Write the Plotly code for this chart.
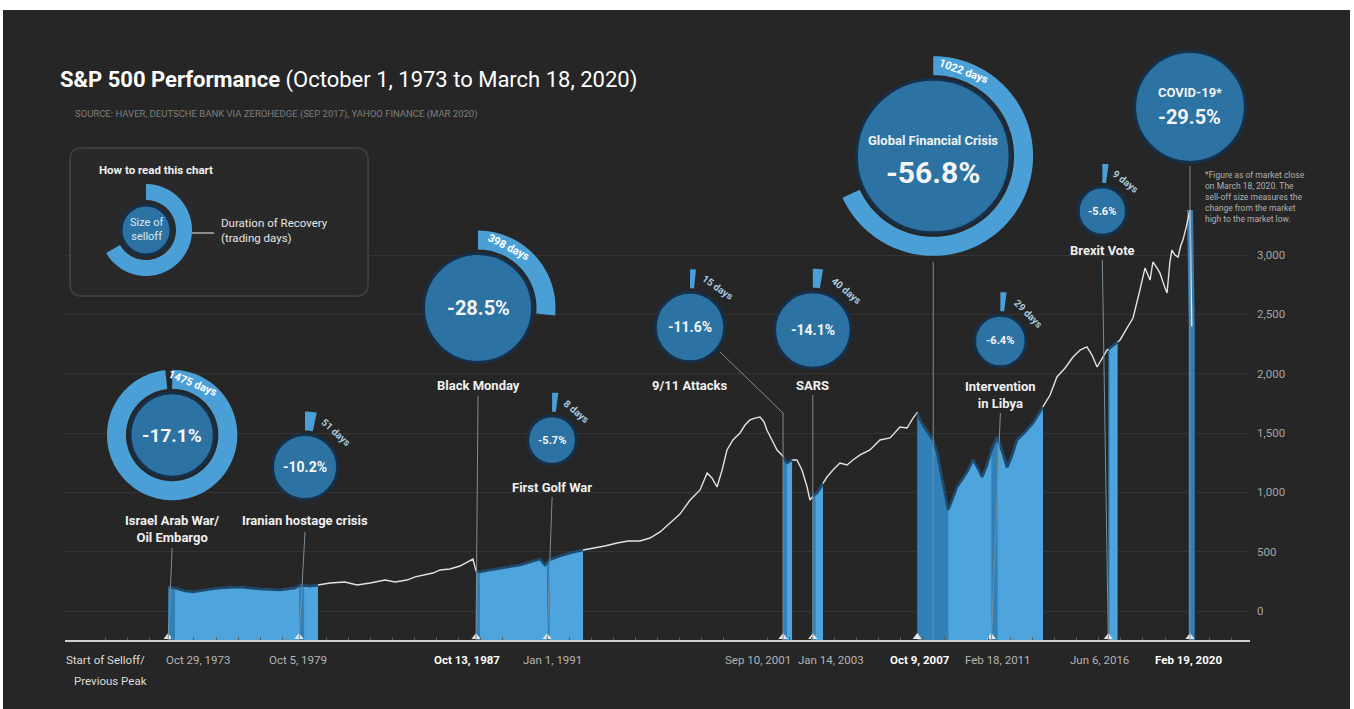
import numpy as np
import plotly.graph_objects as go

W, H = 1354, 709
FONT = "Roboto, Liberation Sans, sans-serif"

# ---------------- data ----------------
sp_years = [1973.82, 1974.14, 1974.59, 1974.96, 1975.50, 1976.18, 1977.09, 1977.99, 1978.90, 1979.58,
            1979.80, 1980.26, 1980.62, 1981.16, 1981.84, 1982.39, 1982.98, 1983.66, 1984.11, 1984.65,
            1985.02, 1985.47, 1985.83, 1986.15, 1986.60, 1987.05, 1987.42, 1987.64, 1987.78, 1987.96,
            1988.41, 1988.87, 1989.18, 1989.77, 1990.23, 1990.68, 1990.90, 1991.09, 1991.58, 1992.04,
            1992.63, 1993.17, 1993.62, 1994.17, 1994.67, 1995.21, 1995.66, 1996.12, 1996.71, 1997.02,
            1997.48, 1997.93, 1998.25, 1998.47, 1998.70, 1998.93, 1999.15, 1999.42, 1999.74, 1999.97,
            2000.19, 2000.42, 2000.65, 2000.83, 2000.96, 2001.19, 2001.42, 2001.64, 2001.87, 2002.10,
            2002.32, 2002.55, 2002.78, 2002.91, 2003.09, 2003.23, 2003.46, 2003.68, 2003.95, 2004.27,
            2004.59, 2004.86, 2005.18, 2005.63, 2006.08, 2006.54, 2006.99, 2007.31, 2007.58, 2007.76,
            2007.90, 2008.12, 2008.35, 2008.49, 2008.67, 2008.80, 2008.98, 2009.17, 2009.35, 2009.57,
            2009.85, 2010.07, 2010.30, 2010.52, 2010.71, 2010.93, 2011.16, 2011.39, 2011.61, 2011.84,
            2012.07, 2012.29, 2012.65, 2013.02, 2013.24, 2013.47, 2013.79, 2014.10, 2014.47, 2014.83,
            2015.15, 2015.46, 2015.69, 2015.92, 2016.14, 2016.37, 2016.64, 2016.96, 2017.28, 2017.55,
            2017.86, 2018.09, 2018.32, 2018.45, 2018.64, 2018.77, 2018.95, 2019.09, 2019.22, 2019.31,
            2019.45, 2019.59, 2019.72, 2019.81, 2019.95, 2020.04, 2020.13, 2020.16, 2020.19, 2020.21]
sp_values = [202, 194, 169, 160, 177, 194, 202, 185, 177, 194,
             219, 211, 219, 236, 244, 219, 236, 261, 244, 261,
             287, 303, 320, 346, 354, 379, 413, 438, 337, 329,
             346, 362, 371, 388, 413, 438, 388, 430, 463, 489,
             514, 531, 548, 573, 590, 590, 615, 666, 767, 817,
             935, 1020, 1163, 1121, 1045, 1188, 1357, 1441, 1500, 1567,
             1610, 1626, 1635, 1593, 1525, 1441, 1357, 1315, 1247, 1273,
             1273, 1188, 1045, 935, 978, 994, 1062, 1129, 1188, 1247,
             1230, 1273, 1315, 1357, 1441, 1458, 1551, 1542, 1626, 1669,
             1610, 1542, 1483, 1441, 1340, 1213, 1020, 851, 935, 1045,
             1121, 1188, 1273, 1205, 1129, 1230, 1374, 1466, 1357, 1213,
             1315, 1441, 1508, 1584, 1652, 1719, 1820, 1972, 2048, 2140,
             2199, 2225, 2157, 2056, 2132, 2199, 2233, 2284, 2385, 2469,
             2705, 2890, 2789, 2941, 2890, 2848, 2747, 2680, 2941, 3042,
             3000, 2983, 3084, 3126, 3228, 3312, 3379, 3000, 2700, 2398]

event_names = ["Israel Arab War/<br>Oil Embargo", "Iranian hostage crisis", "Black Monday",
               "First Golf War", "9/11 Attacks", "SARS", "Global Financial Crisis",
               "Intervention<br>in Libya", "Brexit Vote", "COVID-19*"]
event_dates = ["Oct 29, 1973", "Oct 5, 1979", "Oct 13, 1987", "Jan 1, 1991", "Sep 10, 2001",
               "Jan 14, 2003", "Oct 9, 2007", "Feb 18, 2011", "Jun 6, 2016", "Feb 19, 2020"]
peak_years = [1973.83, 1979.76, 1987.78, 1991.00, 2001.69, 2003.04, 2007.77, 2011.13, 2016.43, 2020.13]
trough_years = [1974.14, 1980.00, 1987.96, 1991.10, 2001.87, 2003.15, 2009.17, 2011.42, 2016.47, 2020.21]
end_years = [1980.62, 1980.62, 1991.00, 1992.63, 2002.10, 2003.50, 2013.47, 2012.07, 2016.85, None]
selloff_pct = [17.1, 10.2, 28.5, 5.7, 11.6, 14.1, 56.8, 6.4, 5.6, 29.5]
recovery_days = [1475, 51, 398, 8, 15, 40, 1022, 29, 9, None]
y_ticks = [0, 500, 1000, 1500, 2000, 2500, 3000]

# ---------------- styling / placement ----------------
BG = "#262626"
BUBBLE = "#2c72a3"
BUBBLE_EDGE = "#17304a"
RING = "#4b9fd7"
DARK_FILL = "#3180b8"
LIGHT_FILL = "#4ea4dc"
NAVY = "#1d4a6c"
LEADER = "#7d8e99"

X_MIN, X_MAX = 1969.156, 2022.849
Y_MIN, Y_MAX = -244.4, 5148.9
AXIS_PY = 640

bubble_dx = [4, 6, 2, 5, -93, 0, 16, 9, -6, 0]
bubble_cy = [435, 467, 308, 440, 327, 330, 156, 341, 211, 107]
pct_size = [19, 14, 20, 11, 14, 14, 30, 11, 11, 20]
name_py = [529, 520, 385, 487, 385, 385, None, 395, 250, None]
ring_label_angle = [22, 42, 27, 40, 35, 40, 20, 45, 38, None]
date_dx = [30, -1, -9, 5, -25, 18, 3, 7, -9, -1]
bold_dates = {2, 6, 9}
leader_pts = [
    [(4, 548), (0, 640)],
    [(6, 532), (0, 640)],
    [(2, 396), (0, 640)],
    [(5, 497), (0, 640)],
    [(-63, 352), (0, 413), (0, 640)],
    [(0, 395), (0, 640)],
    [(16, 262), (16, 640)],
    [(9, 413), (0, 640)],
    [(-6, 260), (0, 640)],
    [(0, 166), (0, 640)],
]


def paper_y(py):
    return 1 - py / H


def ann(**kw):
    base = dict(showarrow=False, xanchor="center", yanchor="middle")
    base.update(kw)
    return base


def ring_path(r0, r1, sweep, dx=0.0):
    n = max(4, int(sweep / 3) + 2)
    th = np.radians(np.linspace(0, sweep, n))
    pts = [(dx + r1 * np.sin(t), r1 * np.cos(t)) for t in th]
    pts += [(dx + r0 * np.sin(t), r0 * np.cos(t)) for t in th[::-1]]
    return "M " + " L ".join(f"{x:.2f},{y:.2f}" for x, y in pts) + " Z"


yrs = np.array(sp_years)
vals = np.array(sp_values, dtype=float)


def segment(a, b):
    inside = (yrs > a) & (yrs < b)
    xs = np.concatenate([[a], yrs[inside], [b]])
    return xs, np.interp(xs, yrs, vals)


fig = go.Figure()

# shaded sell-off / recovery areas under the index line
for i in range(len(peak_years)):
    a, t, e = peak_years[i], trough_years[i], end_years[i]
    covid = e is None
    xs, ys = segment(a, t)
    fig.add_trace(go.Scatter(
        x=list(xs) + [t, a], y=list(ys) + [Y_MIN, Y_MIN], mode="lines", fill="toself",
        fillcolor="#2f7fb6" if covid else DARK_FILL,
        line=dict(width=6 if covid else 0, color="#2f7fb6"), hoverinfo="skip"))
    if e is not None:
        xs, ys = segment(t, e)
        fig.add_trace(go.Scatter(
            x=list(xs) + [e, t], y=list(ys) + [Y_MIN, Y_MIN], mode="lines", fill="toself",
            fillcolor=LIGHT_FILL, line=dict(width=0), hoverinfo="skip"))

# index line
fig.add_trace(go.Scatter(x=sp_years, y=sp_values, mode="lines",
                         line=dict(color="#e2e2e2", width=1.4), hoverinfo="skip"))

# darker outline of the index inside shaded areas
for i in range(len(peak_years)):
    if end_years[i] is None:
        continue
    xs, ys = segment(peak_years[i], end_years[i])
    fig.add_trace(go.Scatter(x=xs, y=ys, mode="lines",
                             line=dict(color=NAVY, width=2.6), hoverinfo="skip"))

# event markers on the time axis
fig.add_trace(go.Scatter(x=peak_years, y=[Y_MIN + 25] * len(peak_years), mode="markers",
                         marker=dict(symbol="triangle-up", size=8, color="#e8e8e8"),
                         cliponaxis=False, hoverinfo="skip"))

shapes = []
# background panel
shapes.append(dict(type="rect", xref="paper", yref="paper", x0=3 / W, x1=1350 / W,
                   y0=0, y1=paper_y(10), fillcolor=BG, line=dict(width=0), layer="below"))

# legend box
box = "M 82,-148 L 356,-148 Q 368,-148 368,-160 L 368,-284 Q 368,-296 356,-296 L 82,-296 Q 70,-296 70,-284 L 70,-160 Q 70,-148 82,-148 Z"
shapes.append(dict(type="path", xref="paper", yref="paper", xsizemode="pixel", ysizemode="pixel",
                   xanchor=0, yanchor=1, path=box, fillcolor="#292929",
                   line=dict(color="#3d3d3d", width=2), layer="above"))
shapes.append(dict(type="path", xref="paper", yref="paper", xsizemode="pixel", ysizemode="pixel",
                   xanchor=146 / W, yanchor=paper_y(230), path=ring_path(30, 46, 240),
                   fillcolor=RING, line=dict(width=0), layer="above"))
shapes.append(dict(type="circle", xref="paper", yref="paper", xsizemode="pixel", ysizemode="pixel",
                   xanchor=146 / W, yanchor=paper_y(230), x0=-25, x1=25, y0=-25, y1=25,
                   fillcolor=BUBBLE, line=dict(color=BUBBLE_EDGE, width=3), layer="above"))
shapes.append(dict(type="line", xref="paper", yref="paper", x0=192 / W, x1=214 / W,
                   y0=paper_y(233), y1=paper_y(233), line=dict(color="#cfcfcf", width=1.2),
                   layer="above"))

# leader lines
for i in range(len(peak_years)):
    pts = leader_pts[i]
    path = "M " + " L ".join(f"{x},{AXIS_PY - py}" for x, py in pts)
    shapes.append(dict(type="path", xref="x", yref="paper", xsizemode="pixel", ysizemode="pixel",
                       xanchor=peak_years[i], yanchor=paper_y(AXIS_PY), path=path,
                       line=dict(color=LEADER, width=1), layer="above"))

annotations = []

# bubbles: circle area ~ size of sell-off, ring sweep ~ recovery duration
for i in range(len(peak_years)):
    r = 10.2 * np.sqrt(selloff_pct[i])
    dx, cy = bubble_dx[i], bubble_cy[i]
    days = recovery_days[i]
    if days is not None:
        r0, r1 = r + 4, r + 23
        sweep = max(360 * days / 1500, np.degrees(5 / ((r0 + r1) / 2)))
        shapes.append(dict(type="path", xref="x", yref="paper", xsizemode="pixel", ysizemode="pixel",
                           xanchor=peak_years[i], yanchor=paper_y(cy),
                           path=ring_path(r0, r1, sweep, dx), fillcolor=RING,
                           line=dict(width=0), layer="above"))
        ang = ring_label_angle[i]
        rm = (r0 + r1) / 2
        inside = sweep > ang + 20
        annotations.append(ann(
            x=peak_years[i], xref="x", y=paper_y(cy), yref="paper",
            xshift=dx + rm * np.sin(np.radians(ang)), yshift=rm * np.cos(np.radians(ang)),
            text=f"<b>{days} days</b>", textangle=ang,
            font=dict(family=FONT, size=11 if inside else 10,
                      color="#ffffff" if inside else "#a9c8de")))
    shapes.append(dict(type="circle", xref="x", yref="paper", xsizemode="pixel", ysizemode="pixel",
                       xanchor=peak_years[i], yanchor=paper_y(cy),
                       x0=dx - r, x1=dx + r, y0=-r, y1=r, fillcolor=BUBBLE,
                       line=dict(color=BUBBLE_EDGE, width=3), layer="above"))
    pct = f"<b>-{selloff_pct[i]}%</b>"
    if name_py[i] is None:
        up, down = (16, -16) if i == 6 else (14, -10)
        annotations.append(ann(x=peak_years[i], xref="x", xshift=dx, y=paper_y(cy), yref="paper",
                               yshift=up, text=f"<b>{event_names[i]}</b>",
                               font=dict(family=FONT, size=13, color="#f2f2f2")))
        annotations.append(ann(x=peak_years[i], xref="x", xshift=dx, y=paper_y(cy), yref="paper",
                               yshift=down, text=pct,
                               font=dict(family=FONT, size=pct_size[i], color="#f5f5f5")))
    else:
        annotations.append(ann(x=peak_years[i], xref="x", xshift=dx, y=paper_y(cy), yref="paper",
                               text=pct, font=dict(family=FONT, size=pct_size[i], color="#f5f5f5")))
        annotations.append(ann(x=peak_years[i], xref="x", xshift=dx, y=paper_y(name_py[i]),
                               yref="paper", text=f"<b>{event_names[i]}</b>",
                               font=dict(family=FONT, size=13, color="#f0f0f0")))

# date labels under the axis
for i, d in enumerate(event_dates):
    bold = i in bold_dates
    annotations.append(ann(x=peak_years[i], xref="x", xshift=date_dx[i], y=paper_y(660),
                           yref="paper", text=f"<b>{d}</b>" if bold else d,
                           font=dict(family=FONT, size=11.5, color="#ffffff" if bold else "#b4b4b4")))
annotations.append(ann(x=106 / W, xref="paper", y=paper_y(660), yref="paper",
                       text="Start of Selloff/", font=dict(family=FONT, size=11.5, color="#dcdcdc")))
annotations.append(ann(x=110 / W, xref="paper", y=paper_y(681), yref="paper",
                       text="Previous Peak", font=dict(family=FONT, size=11.5, color="#dcdcdc")))

# titles and notes
annotations += [
    ann(x=58 / W, xref="paper", xanchor="left", y=paper_y(80), yref="paper",
        text="<b>S&amp;P 500 Performance</b> (October 1, 1973 to March 18, 2020)",
        font=dict(family=FONT, size=22, color="#ffffff")),
    ann(x=73 / W, xref="paper", xanchor="left", y=paper_y(114), yref="paper",
        text="SOURCE: HAVER, DEUTSCHE BANK VIA ZEROHEDGE (SEP 2017), YAHOO FINANCE (MAR 2020)",
        font=dict(family=FONT, size=9.5, color="#7e7e7e")),
    ann(x=97 / W, xref="paper", xanchor="left", y=paper_y(170), yref="paper",
        text="<b>How to read this chart</b>", font=dict(family=FONT, size=11.5, color="#f0f0f0")),
    ann(x=146 / W, xref="paper", y=paper_y(230), yref="paper", text="Size of<br>selloff",
        font=dict(family=FONT, size=11, color="#dde9f2")),
    ann(x=219 / W, xref="paper", xanchor="left", y=paper_y(231), yref="paper",
        text="Duration of Recovery<br>(trading days)", align="left",
        font=dict(family=FONT, size=11.5, color="#e6e6e6")),
    ann(x=1203 / W, xref="paper", xanchor="left", y=paper_y(168), yref="paper", yanchor="top",
        text="*Figure as of market close<br>on March 18, 2020. The<br>sell-off size measures the<br>"
             "change from the market<br>high to the market low.",
        align="left", font=dict(family=FONT, size=8.5, color="#b0b0b0")),
]

fig.update_layout(
    width=W, height=H, margin=dict(l=0, r=0, t=0, b=0),
    paper_bgcolor="#ffffff", plot_bgcolor="rgba(0,0,0,0)", showlegend=False,
    xaxis=dict(domain=[65 / W, 1250 / W], range=[X_MIN, X_MAX], showgrid=False, zeroline=False,
               showline=True, linecolor="#cfcfcf", linewidth=2, ticks="", showticklabels=False,
               minor=dict(ticks="inside", ticklen=3, tickcolor="#5c5c5c", dtick=1, tick0=1970,
                          showgrid=False),
               fixedrange=True),
    yaxis=dict(domain=[(H - AXIS_PY) / H, 1], range=[Y_MIN, Y_MAX], side="right",
               tickvals=y_ticks, tickformat=",", showgrid=True, gridcolor="#343434", gridwidth=1,
               zeroline=False, showline=False, ticks="", ticklabelstandoff=6,
               tickfont=dict(family=FONT, size=11.5, color="#a5a5a5"), fixedrange=True),
    shapes=shapes, annotations=annotations,
)

fig.write_html("out.html")
